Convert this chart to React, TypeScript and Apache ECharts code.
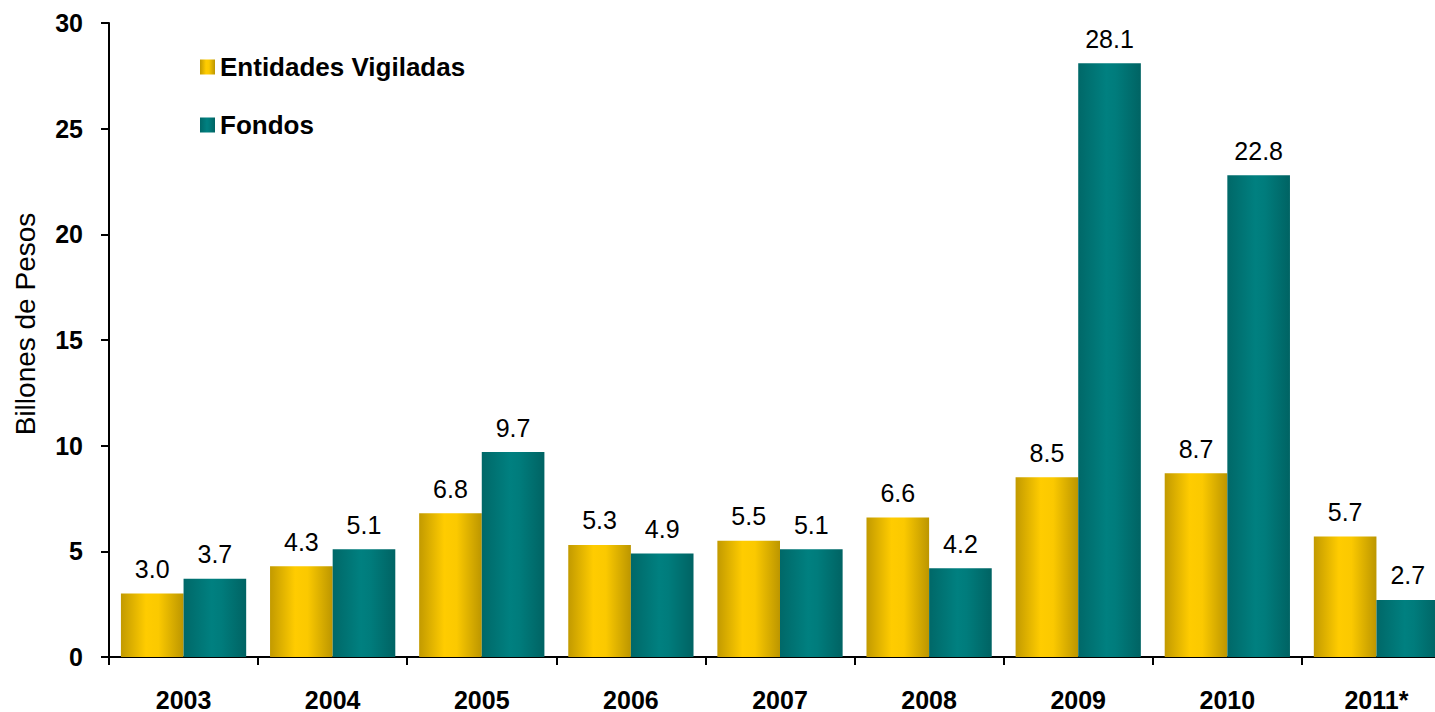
import React, { useEffect, useRef } from "react";
import * as echarts from "echarts";

const categories = ["2003", "2004", "2005", "2006", "2007", "2008", "2009", "2010", "2011*"];
const entidadesVigiladas = [3.0, 4.3, 6.8, 5.3, 5.5, 6.6, 8.5, 8.7, 5.7];
const fondos = [3.7, 5.1, 9.7, 4.9, 5.1, 4.2, 28.1, 22.8, 2.7];
const yTicks = { min: 0, max: 30, interval: 5 };

const FONT = "'Liberation Sans', Arial, sans-serif";

const goldGrad = new echarts.graphic.LinearGradient(0, 0, 1, 0, [
  { offset: 0, color: "#C29A00" },
  { offset: 0.4, color: "#FFCC00" },
  { offset: 0.6, color: "#FBC900" },
  { offset: 1, color: "#BC9600" },
]);
const tealGrad = new echarts.graphic.LinearGradient(0, 0, 1, 0, [
  { offset: 0, color: "#006868" },
  { offset: 0.45, color: "#008080" },
  { offset: 0.6, color: "#007C7C" },
  { offset: 1, color: "#006363" },
]);

export default function App() {
  const ref = useRef<HTMLDivElement>(null);
  useEffect(() => {
    if (!ref.current) return;
    const chart = echarts.init(ref.current, undefined, { renderer: "svg" });
    const labelCfg = {
      show: true,
      position: "top" as const,
      distance: 12,
      color: "#000",
      fontFamily: FONT,
      fontSize: 25,
      formatter: (p: any) => Number(p.value).toFixed(1),
    };
    chart.setOption({
      animation: false,
      backgroundColor: "#fff",
      grid: { left: 109, right: 0, top: 23, bottom: 54, containLabel: false },
      legend: {
        orient: "vertical",
        left: 195,
        top: 49,
        itemWidth: 15,
        itemHeight: 15,
        itemGap: 32,
        icon: "rect",
        textStyle: { fontFamily: FONT, fontSize: 26, fontWeight: "bold", color: "#000" },
        data: ["Entidades Vigiladas", "Fondos"],
      },
      graphic: [
        {
          type: "text",
          x: 25,
          y: 324,
          rotation: Math.PI / 2,
          style: {
            text: "Billones de Pesos",
            fontFamily: FONT,
            fontSize: 28,
            fill: "#000",
            align: "center",
            verticalAlign: "middle",
          },
        },
      ],
      xAxis: {
        type: "category",
        data: categories,
        axisLine: { lineStyle: { color: "#000", width: 2 } },
        axisTick: { show: true, length: 8, lineStyle: { color: "#000", width: 2 }, alignWithLabel: false },
        axisLabel: { fontFamily: FONT, fontSize: 25, fontWeight: "bold", color: "#000", margin: 30 },
      },
      yAxis: {
        type: "value",
        min: yTicks.min,
        max: yTicks.max,
        interval: yTicks.interval,
        axisLine: { show: true, lineStyle: { color: "#000", width: 2 } },
        axisTick: { show: true, length: 8, lineStyle: { color: "#000", width: 2 } },
        splitLine: { show: false },
        axisLabel: { fontFamily: FONT, fontSize: 25, fontWeight: "bold", color: "#000", margin: 26 },
      },
      series: [
        {
          name: "Entidades Vigiladas",
          type: "bar",
          data: entidadesVigiladas,
          barGap: "0%",
          barCategoryGap: "16%",
          itemStyle: { color: goldGrad },
          label: labelCfg,
        },
        {
          name: "Fondos",
          type: "bar",
          data: fondos,
          barGap: "0%",
          barCategoryGap: "16%",
          itemStyle: { color: tealGrad },
          label: labelCfg,
        },
      ],
    });
    return () => chart.dispose();
  }, []);
  return (
    <div
      ref={ref}
      style={{ position: "fixed", left: 0, top: 0, width: 1451, height: 712 }}
    />
  );
}
